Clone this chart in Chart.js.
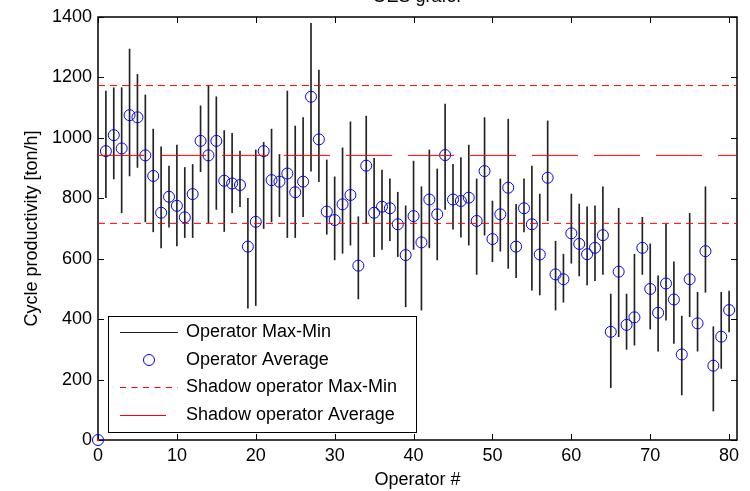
<!DOCTYPE html>
<html>
<head>
<meta charset="utf-8">
<script src="https://cdn.jsdelivr.net/npm/chart.js@4.4.1/dist/chart.umd.min.js"></script>
<style>
  html, body { margin: 0; padding: 0; background: #fff; }
</style>
</head>
<body>
<canvas id="chart" width="750" height="491"></canvas>
<script>
// operator 0 .. 80 (index = operator #)
let avgValues = [0,
  956, 1009, 965, 1075, 1068, 942, 874, 752, 805, 775,
  737, 814, 990, 942, 990, 858, 849, 844, 640, 722,
  956, 860, 855, 882, 820, 855, 1136, 995, 756, 728,
  780, 811, 577, 908, 752, 772, 767, 714, 612, 741,
  654, 796, 747, 943, 796, 791, 802, 725, 890, 665,
  747, 835, 640, 767, 714, 614, 868, 548, 532, 684,
  649, 615, 636, 678, 358, 557, 381, 406, 636, 500,
  421, 518, 465, 283, 532, 386, 625, 246, 342, 430];
let maxValues = [null,
  1155, 1166, 1166, 1294, 1210, 1142, 1029, 970, 907, 976,
  902, 912, 1106, 1172, 1136, 1024, 1015, 956, 800, 960,
  985, 1029, 945, 1155, 1039, 1067, 1379, 1224, 927, 871,
  967, 1053, 739, 1072, 932, 893, 864, 820, 775, 923,
  838, 960, 897, 1112, 912, 935, 976, 864, 1067, 791,
  864, 1062, 780, 864, 907, 814, 1056, 658, 615, 814,
  781, 772, 775, 838, 483, 767, 483, 615, 737, 649,
  543, 714, 590, 410, 750, 489, 838, 375, 489, 493];
let minValues = [null,
  802, 864, 752, 874, 902, 722, 689, 636, 704, 642,
  670, 670, 888, 719, 763, 690, 752, 772, 436, 445,
  700, 722, 739, 670, 670, 739, 890, 855, 681, 596,
  618, 645, 467, 717, 607, 631, 660, 607, 441, 631,
  430, 636, 596, 763, 698, 671, 645, 548, 678, 590,
  625, 568, 537, 689, 496, 480, 726, 430, 456, 585,
  543, 513, 527, 548, 173, 342, 300, 314, 548, 367,
  294, 397, 320, 149, 408, 294, 489, 96, 237, 358];

let shadowMax = 1173;
let shadowAvg = 942;
let shadowMin = 717;
let shadowOrigin = 0;

let xTicks = [0, 10, 20, 30, 40, 50, 60, 70, 80];
let yTicks = [0, 200, 400, 600, 800, 1000, 1200, 1400];

const FONT = "'Liberation Sans', Arial, sans-serif";

let barData = [];
maxValues.forEach((hi, i) => {
    if (hi !== null) barData.push({ x: i, y: [minValues[i], hi] });
});
let avgData = avgValues.map((v, i) => ({ x: i, y: v }));
let hLine = (v) => [{ x: 0, y: v }, { x: 81, y: v }];

// box round the axes with ticks pointing inward
const axesBox = {
    id: "axesBox",
    beforeDatasetsDraw(chart) {
        const { ctx, chartArea: a, scales } = chart;
        ctx.save();
        ctx.strokeStyle = "#000";
        ctx.lineWidth = 1;
        ctx.beginPath();
        xTicks.forEach((v) => {
            const px = Math.round(scales.x.getPixelForValue(v)) + 0.5;
            ctx.moveTo(px, a.bottom); ctx.lineTo(px, a.bottom - 6);
            ctx.moveTo(px, a.top); ctx.lineTo(px, a.top + 6);
        });
        yTicks.forEach((v) => {
            const py = Math.round(scales.y.getPixelForValue(v)) + 0.5;
            ctx.moveTo(a.left, py); ctx.lineTo(a.left + 6, py);
            ctx.moveTo(a.right, py); ctx.lineTo(a.right - 6, py);
        });
        ctx.stroke();
        ctx.lineWidth = 1.5;
        ctx.strokeRect(a.left, a.top, a.right - a.left, a.bottom - a.top);
        ctx.restore();
    },
};

// legend in the lower left corner, like matlab
const boxLegend = {
    id: "boxLegend",
    afterDraw(chart) {
        const ctx = chart.ctx;
        const ds = chart.data.datasets;
        const left = 108, top = 316, w = 308, h = 116;
        ctx.save();
        ctx.fillStyle = "#fff";
        ctx.fillRect(left, top, w, h);
        ctx.strokeStyle = "#000";
        ctx.lineWidth = 1;
        ctx.strokeRect(left + 0.5, top + 0.5, w, h);
        const rows = [332, 360, 387, 415];
        ctx.font = "18px " + FONT;
        ctx.textBaseline = "middle";
        ctx.fillStyle = "#000";
        // Max-Min
        ctx.beginPath();
        ctx.strokeStyle = "#222";
        ctx.moveTo(120, rows[0] + 0.5); ctx.lineTo(178, rows[0] + 0.5);
        ctx.stroke();
        ctx.fillText(ds[0].label, 186, rows[0]);
        // Average
        ctx.beginPath();
        ctx.strokeStyle = "#0000ff";
        ctx.arc(149, rows[1], 5.5, 0, Math.PI * 2);
        ctx.stroke();
        ctx.fillText(ds[1].label, 186, rows[1]);
        // shadow max-min
        ctx.beginPath();
        ctx.strokeStyle = "#ff0000";
        ctx.setLineDash([6, 5.5]);
        ctx.moveTo(120, rows[2] + 0.5); ctx.lineTo(178, rows[2] + 0.5);
        ctx.stroke();
        ctx.fillText(ds[2].label, 186, rows[2]);
        // shadow average
        ctx.beginPath();
        ctx.setLineDash([]);
        ctx.moveTo(120, rows[3] + 0.5); ctx.lineTo(166, rows[3] + 0.5);
        ctx.stroke();
        ctx.fillText(ds[4].label, 186, rows[3]);
        ctx.restore();
    },
};

// title, cut off at the top of the picture
const cutTitle = {
    id: "cutTitle",
    afterDraw(chart) {
        const ctx = chart.ctx;
        const a = chart.chartArea;
        ctx.save();
        ctx.font = "18px " + FONT;
        ctx.fillStyle = "#000";
        ctx.textAlign = "center";
        ctx.textBaseline = "alphabetic";
        ctx.fillText("OES grafer", (a.left + a.right) / 2, 2);
        ctx.restore();
    },
};

new Chart("chart", {
    type: "scatter",
    data: {
        datasets: [
            {
                type: "bar",
                label: "Operator Max-Min",
                data: barData,
                backgroundColor: "#222",
                borderWidth: 0,
                barThickness: 1,
                grouped: false,
                order: 4,
            },
            {
                type: "scatter",
                label: "Operator Average",
                data: avgData,
                pointStyle: "circle",
                pointRadius: 5.5,
                borderColor: "#0000ff",
                backgroundColor: "rgba(0,0,0,0)",
                borderWidth: 1,
                clip: false,
                order: 3,
            },
            {
                type: "line",
                label: "Shadow operator Max-Min",
                data: hLine(shadowMax),
                borderColor: "#ff0000",
                borderWidth: 1,
                borderDash: [7, 5],
                pointRadius: 0,
                order: 2,
            },
            {
                type: "line",
                label: "Shadow operator Min",
                data: hLine(shadowMin),
                borderColor: "#ff0000",
                borderWidth: 1,
                borderDash: [7, 5],
                pointRadius: 0,
                order: 2,
            },
            {
                type: "line",
                label: "Shadow operator Average",
                data: hLine(shadowAvg),
                borderColor: "#ff0000",
                borderWidth: 1,
                borderDash: [46, 16],
                pointRadius: 0,
                order: 1,
            },
            {
                type: "scatter",
                label: "Shadow operator",
                data: [{ x: 0, y: shadowOrigin }],
                pointStyle: "rect",
                pointRadius: 1.5,
                borderWidth: 0,
                backgroundColor: "#ff0000",
                clip: false,
                order: 0,
            },
        ],
    },
    options: {
        responsive: false,
        animation: false,
        layout: { padding: { top: 17, right: 13, left: 0, bottom: 0 } },
        scales: {
            x: {
                type: "linear",
                min: 0,
                max: 81,
                offset: false,
                afterBuildTicks: (s) => { s.ticks = xTicks.map((v) => ({ value: v })); },
                afterFit: (s) => { s.height = 51; },
                grid: { display: false, drawTicks: false, offset: false },
                border: { display: false },
                ticks: {
                    color: "#000",
                    font: { family: FONT, size: 18 },
                    padding: 5,
                    maxRotation: 0,
                    autoSkip: false,
                    callback: (v) => String(v),
                },
                title: {
                    display: true,
                    text: "Operator #",
                    color: "#000",
                    font: { family: FONT, size: 18 },
                    padding: { top: 0, bottom: 0 },
                },
            },
            y: {
                type: "linear",
                min: 0,
                max: 1400,
                afterBuildTicks: (s) => { s.ticks = yTicks.map((v) => ({ value: v })); },
                afterFit: (s) => { s.width = 98; },
                grid: { display: false, drawTicks: false },
                border: { display: false },
                ticks: {
                    color: "#000",
                    font: { family: FONT, size: 18 },
                    padding: 6,
                    callback: (v) => String(v),
                },
                title: {
                    display: true,
                    text: "Cycle productivity [ton/h]",
                    color: "#000",
                    font: { family: FONT, size: 18 },
                    padding: { top: 21, bottom: 0 },
                },
            },
        },
        plugins: {
            legend: { display: false },
            tooltip: { enabled: false },
        },
    },
    plugins: [axesBox, boxLegend, cutTitle],
});
</script>
</body>
</html>
